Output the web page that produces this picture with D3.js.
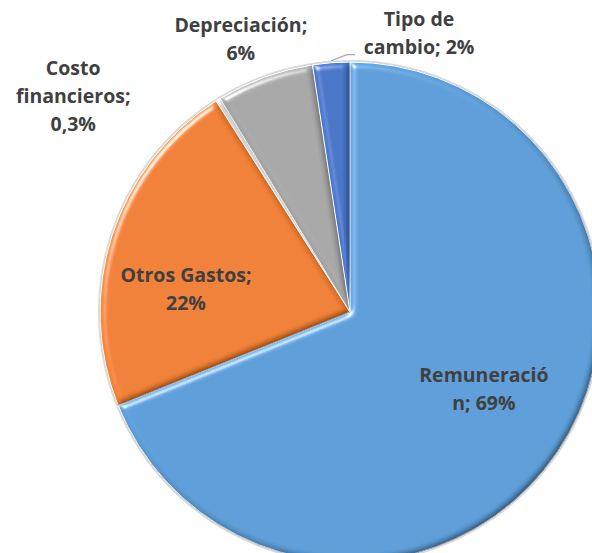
<!DOCTYPE html>
<html>
<head>
<meta charset="utf-8">
<script src="https://cdn.jsdelivr.net/npm/d3@7"></script>
<style>
  body { margin: 0; background: #fff; }
  svg { display: block; }
</style>
</head>
<body>
<div id="container"></div>
<script>
// DATA
const categories = ["Remuneración", "Otros Gastos", "Costo financieros", "Depreciación", "Tipo de cambio"];
const values = [68.9, 22.1, 0.3, 6.3, 2.4];
const labelLines = [
  ["Remuneració", "n; 69%"],
  ["Otros Gastos;", "22%"],
  ["Costo", "financieros;", "0,3%"],
  ["Depreciación;", "6%"],
  ["Tipo de", "cambio; 2%"]
];

// layout
const width = 592;
const height = 553;
const cx = 350, cy = 312, radius = 250;
const colors = ["#5b9bd5", "#ed7d31", "#d0d0d0", "#a5a5a5", "#4472c4"];
// label placement: angle (deg, clockwise from top) and distance from centre
const labelPlace = [
  { a: 119.9, r: 154.5 },
  { a: 278.0, r: 165.6 },
  { a: 307.95, r: 351 },
  { a: 338.2, r: 294 },
  { a: 13.9, r: 287.4 }
];

const svg = d3.select("#container").append("svg")
    .attr("width", width)
    .attr("height", height);

// bevel filter
const defs = svg.append("defs");
const f = defs.append("filter").attr("id", "bevel")
    .attr("x", "-5%").attr("y", "-5%").attr("width", "110%").attr("height", "110%");
f.append("feGaussianBlur").attr("in", "SourceAlpha").attr("stdDeviation", 3).attr("result", "blur");
f.append("feDiffuseLighting").attr("in", "blur").attr("surfaceScale", 4)
    .attr("diffuseConstant", 1).attr("lighting-color", "#fff").attr("result", "diff")
  .append("feDistantLight").attr("azimuth", 225).attr("elevation", 45);
f.append("feSpecularLighting").attr("in", "blur").attr("surfaceScale", 4)
    .attr("specularConstant", 0.7).attr("specularExponent", 40).attr("lighting-color", "#fff").attr("result", "spec")
  .append("feDistantLight").attr("azimuth", 225).attr("elevation", 40);
f.append("feComposite").attr("in", "spec").attr("in2", "SourceAlpha").attr("operator", "in").attr("result", "specIn");
f.append("feComposite").attr("in", "SourceGraphic").attr("in2", "diff").attr("operator", "arithmetic")
    .attr("k1", 1).attr("k2", 0.32).attr("k3", 0).attr("k4", 0).attr("result", "lit");
f.append("feComposite").attr("in", "lit").attr("in2", "specIn").attr("operator", "arithmetic")
    .attr("k1", 0).attr("k2", 1).attr("k3", 1).attr("k4", 0).attr("result", "all");
f.append("feComposite").attr("in", "all").attr("in2", "SourceAlpha").attr("operator", "in");

const pie = d3.pie().sort(null).value(d => d);
const arcs = pie(values);
const arc = d3.arc().innerRadius(0).outerRadius(radius);

const g = svg.append("g").attr("transform", "translate(" + cx + "," + cy + ")");

// outer rim
g.append("circle")
    .attr("r", radius + 1)
    .attr("fill", "none")
    .attr("stroke", "#d9d9d9")
    .attr("stroke-width", 2);

g.selectAll("path.slice")
  .data(arcs)
  .enter().append("path")
    .attr("class", "slice")
    .attr("d", arc)
    .attr("fill", (d, i) => colors[i])
    .attr("stroke", "#fff")
    .attr("stroke-width", 1)
    .attr("filter", "url(#bevel)");

// leader line for Tipo de cambio
const tc = arcs[4];
const mid = (tc.startAngle + tc.endAngle) / 2;
const p0 = [Math.sin(mid) * (radius + 2), -Math.cos(mid) * (radius + 2)];
g.append("polyline")
    .attr("points", [p0, [p0[0] + 16, p0[1] - 6], [p0[0] + 24, p0[1] - 6]].map(p => p.join(",")).join(" "))
    .attr("fill", "none")
    .attr("stroke", "#a6a6a6")
    .attr("stroke-width", 1.2);

// labels
const lineH = 28;
const labels = g.selectAll("text.lbl")
  .data(arcs)
  .enter().append("text")
    .attr("class", "lbl")
    .attr("text-anchor", "middle")
    .attr("font-family", "'Open Sans', sans-serif")
    .attr("font-weight", "bold")
    .attr("font-size", 19.5)
    .attr("fill", "#404040")
    .attr("transform", (d, i) => {
      const a = labelPlace[i].a * Math.PI / 180, r = labelPlace[i].r;
      return "translate(" + (Math.sin(a) * r) + "," + (-Math.cos(a) * r) + ")";
    });

labels.each(function(d, i) {
  const lines = labelLines[i];
  const t = d3.select(this);
  lines.forEach((s, k) => {
    t.append("tspan")
      .attr("x", 0)
      .attr("y", (k - (lines.length - 1) / 2) * lineH)
      .attr("dy", "0.35em")
      .text(s);
  });
});
</script>
</body>
</html>
